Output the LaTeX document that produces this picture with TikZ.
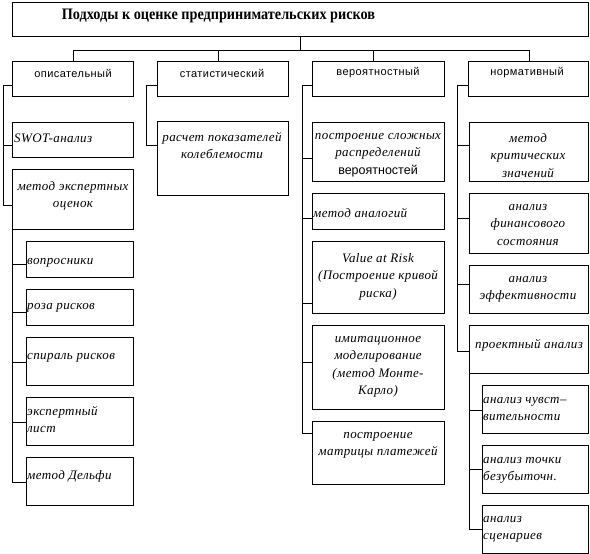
\documentclass[tikz,border=0pt]{standalone}
\usepackage{fontspec}
\setmainfont{Liberation Serif}
\newfontfamily\sansf{Liberation Sans}[LetterSpace=4]
\newfontfamily\sansv{Liberation Sans}
\newfontfamily\corsf{Liberation Serif}[LetterSpace=3]
\begin{document}
\begin{tikzpicture}[x=1pt,y=-1pt,
  bx/.style={draw,line width=0.8pt,inner sep=0,anchor=north west},
  t/.style={inner sep=0,yshift=-4pt,font=\corsf\itshape\fontsize{13}{17.5}\selectfont,execute at begin node=\strut},
  tc/.style={t,anchor=north,align=center},
  tl/.style={t,anchor=north west,align=left},
  lv/.style={inner sep=0,font=\sansf\fontsize{11}{13}\selectfont},
  ln/.style={line width=0.8pt}]
\useasboundingbox (0,0) rectangle (590,554);
\fill[white] (0,0) rectangle (590,554);
% title
\node[bx,minimum width=576,minimum height=34] (T) at (12,2) {};
\node[inner sep=0,font=\bfseries\fontsize{16}{18}\selectfont] (Tt) at (218.5,15.5) {\scalebox{0.89}[1]{Подходы к оценке предпринимательских рисков}};
% level 1
\node[bx,minimum width=121,minimum height=35] (D) at (12,61) {};
\node[bx,minimum width=131,minimum height=35] (S) at (157,61) {};
\node[bx,minimum width=132,minimum height=35] (P) at (312,61) {};
\node[bx,minimum width=120,minimum height=35] (N) at (468,61) {};
\node[lv] (Dt) at (73,73) {описательный};
\node[lv] (St) at (222,73) {статистический};
\node[lv] (Pt) at (378,73) {вероятностный};
\node[lv] (Nt) at (527,73) {нормативный};
% top connectors
\coordinate (hub) at (T.south |- 0,50);
\coordinate (dD) at (73,50);
\coordinate (dS) at (218,50);
\coordinate (dP) at (373,50);
\coordinate (dN) at (529,50);
\draw[ln] (T.south) -- (hub);
\draw[ln] (dD) -- (dN);
\draw[ln] (dD) -- (dD |- D.north);
\draw[ln] (dS) -- (dS |- S.north);
\draw[ln] (dP) -- (dP |- P.north);
\draw[ln] (dN) -- (dN |- N.north);
% descriptive
\node[bx,minimum width=121,minimum height=35] (D1) at (12,122) {};
\node[bx,minimum width=121,minimum height=60] (D2) at (12,169) {};
\node[bx,minimum width=107,minimum height=36] (E1) at (26,241) {};
\node[bx,minimum width=107,minimum height=36] (E2) at (26,289) {};
\node[bx,minimum width=107,minimum height=48] (E3) at (26,337) {};
\node[bx,minimum width=107,minimum height=48] (E4) at (26,397) {};
\node[bx,minimum width=107,minimum height=48] (E5) at (26,457) {};
\node[tl] (D1t) at (14,126) {SWOT-анализ};
\node[tc] (D2t) at (73,177) {метод экспертных\\оценок};
\node[tl] (E1t) at (27,248) {вопросники};
\node[tl] (E2t) at (27,293) {роза рисков};
\node[tl] (E3t) at (27,343) {спираль рисков};
\node[tl] (E4t) at (27,402) {экспертный\\лист};
\node[tl] (E5t) at (27,463) {метод Дельфи};
\coordinate (bD) at (3,85);
\draw[ln] (D.west |- bD) -- (bD) -- (bD |- 0,205) -- (D2.west |- 0,205);
\draw[ln] (bD |- 0,145) -- (D1.west |- 0,145);
\coordinate (bE) at (D2.south west);
\draw[ln] (bE) -- (bE |- 0,482) -- (E5.west |- 0,482);
\foreach \n/\y in {E1/264,E2/312,E3/362,E4/422}
  \draw[ln] (bE |- 0,\y) -- (\n.west |- 0,\y);
% statistical
\node[bx,minimum width=131,minimum height=74] (S1) at (157,121) {};
\node[tc] (S1t) at (222,128) {расчет показателей\\колеблемости};
\coordinate (bS) at (146,85);
\draw[ln] (S.west |- bS) -- (bS) -- (bS |- 0,145) -- (S1.west |- 0,145);
% probabilistic
\node[bx,minimum width=132,minimum height=59] (P1) at (312,122) {};
\node[bx,minimum width=132,minimum height=36] (P2) at (312,193) {};
\node[bx,minimum width=132,minimum height=72] (P3) at (312,241) {};
\node[bx,minimum width=132,minimum height=84] (P4) at (312,325) {};
\node[bx,minimum width=132,minimum height=63] (P5) at (312,421) {};
\node[tc] (P1t) at (378,129) {построение сложных\\распределений\\{\sansv\upshape\fontsize{12.5}{17.5}\selectfont вероятностей}};
\node[tl] (P2t) at (313,201) {метод аналогий};
\node[tc] (P3t) at (378,249) {Value at Risk\\(Построение кривой\\риска)};
\node[tc] (P4t) at (378,332) {имитационное\\моделирование\\(метод Монте-\\Карло)};
\node[tc] (P5t) at (378,428) {построение\\матрицы платежей};
\coordinate (bP) at (302,85);
\draw[ln] (P.west |- bP) -- (bP) -- (bP |- 0,433) -- (P5.west |- 0,433);
\foreach \n/\y in {P1/158,P2/218,P3/303,P4/362}
  \draw[ln] (bP |- 0,\y) -- (\n.west |- 0,\y);
% normative
\node[bx,minimum width=119,minimum height=59] (N1) at (469,122) {};
\node[bx,minimum width=119,minimum height=60] (N2) at (469,193) {};
\node[bx,minimum width=119,minimum height=48] (N3) at (469,265) {};
\node[bx,minimum width=119,minimum height=48] (N4) at (469,325) {};
\node[bx,minimum width=106,minimum height=48] (R1) at (482,385) {};
\node[bx,minimum width=106,minimum height=48] (R2) at (482,445) {};
\node[bx,minimum width=106,minimum height=48] (R3) at (482,505) {};
\node[tc] (N1t) at (528,129) {метод\\критических\\значений};
\node[tc] (N2t) at (528,200) {анализ\\финансового\\состояния};
\node[tc] (N3t) at (528,272) {анализ\\эффективности};
\node[tc] (N4t) at (529,332) {проектный анализ};
\node[tl] (R1t) at (483,393) {анализ чувст–\\вительности};
\node[tl] (R2t) at (483,453) {анализ точки\\безубыточн.};
\node[tl] (R3t) at (483,512) {анализ\\сценариев};
\coordinate (bN) at (457,85);
\draw[ln] (N.west |- bN) -- (bN) -- (bN |- 0,351) -- (N4.west |- 0,351);
\foreach \n/\y in {N1/145,N2/218,N3/284}
  \draw[ln] (bN |- 0,\y) -- (\n.west |- 0,\y);
\coordinate (bR) at (N4.south west);
\draw[ln] (bR) -- (bR |- 0,529) -- (R3.west |- 0,529);
\foreach \n/\y in {R1/410,R2/469}
  \draw[ln] (bR |- 0,\y) -- (\n.west |- 0,\y);
\end{tikzpicture}
\end{document}
